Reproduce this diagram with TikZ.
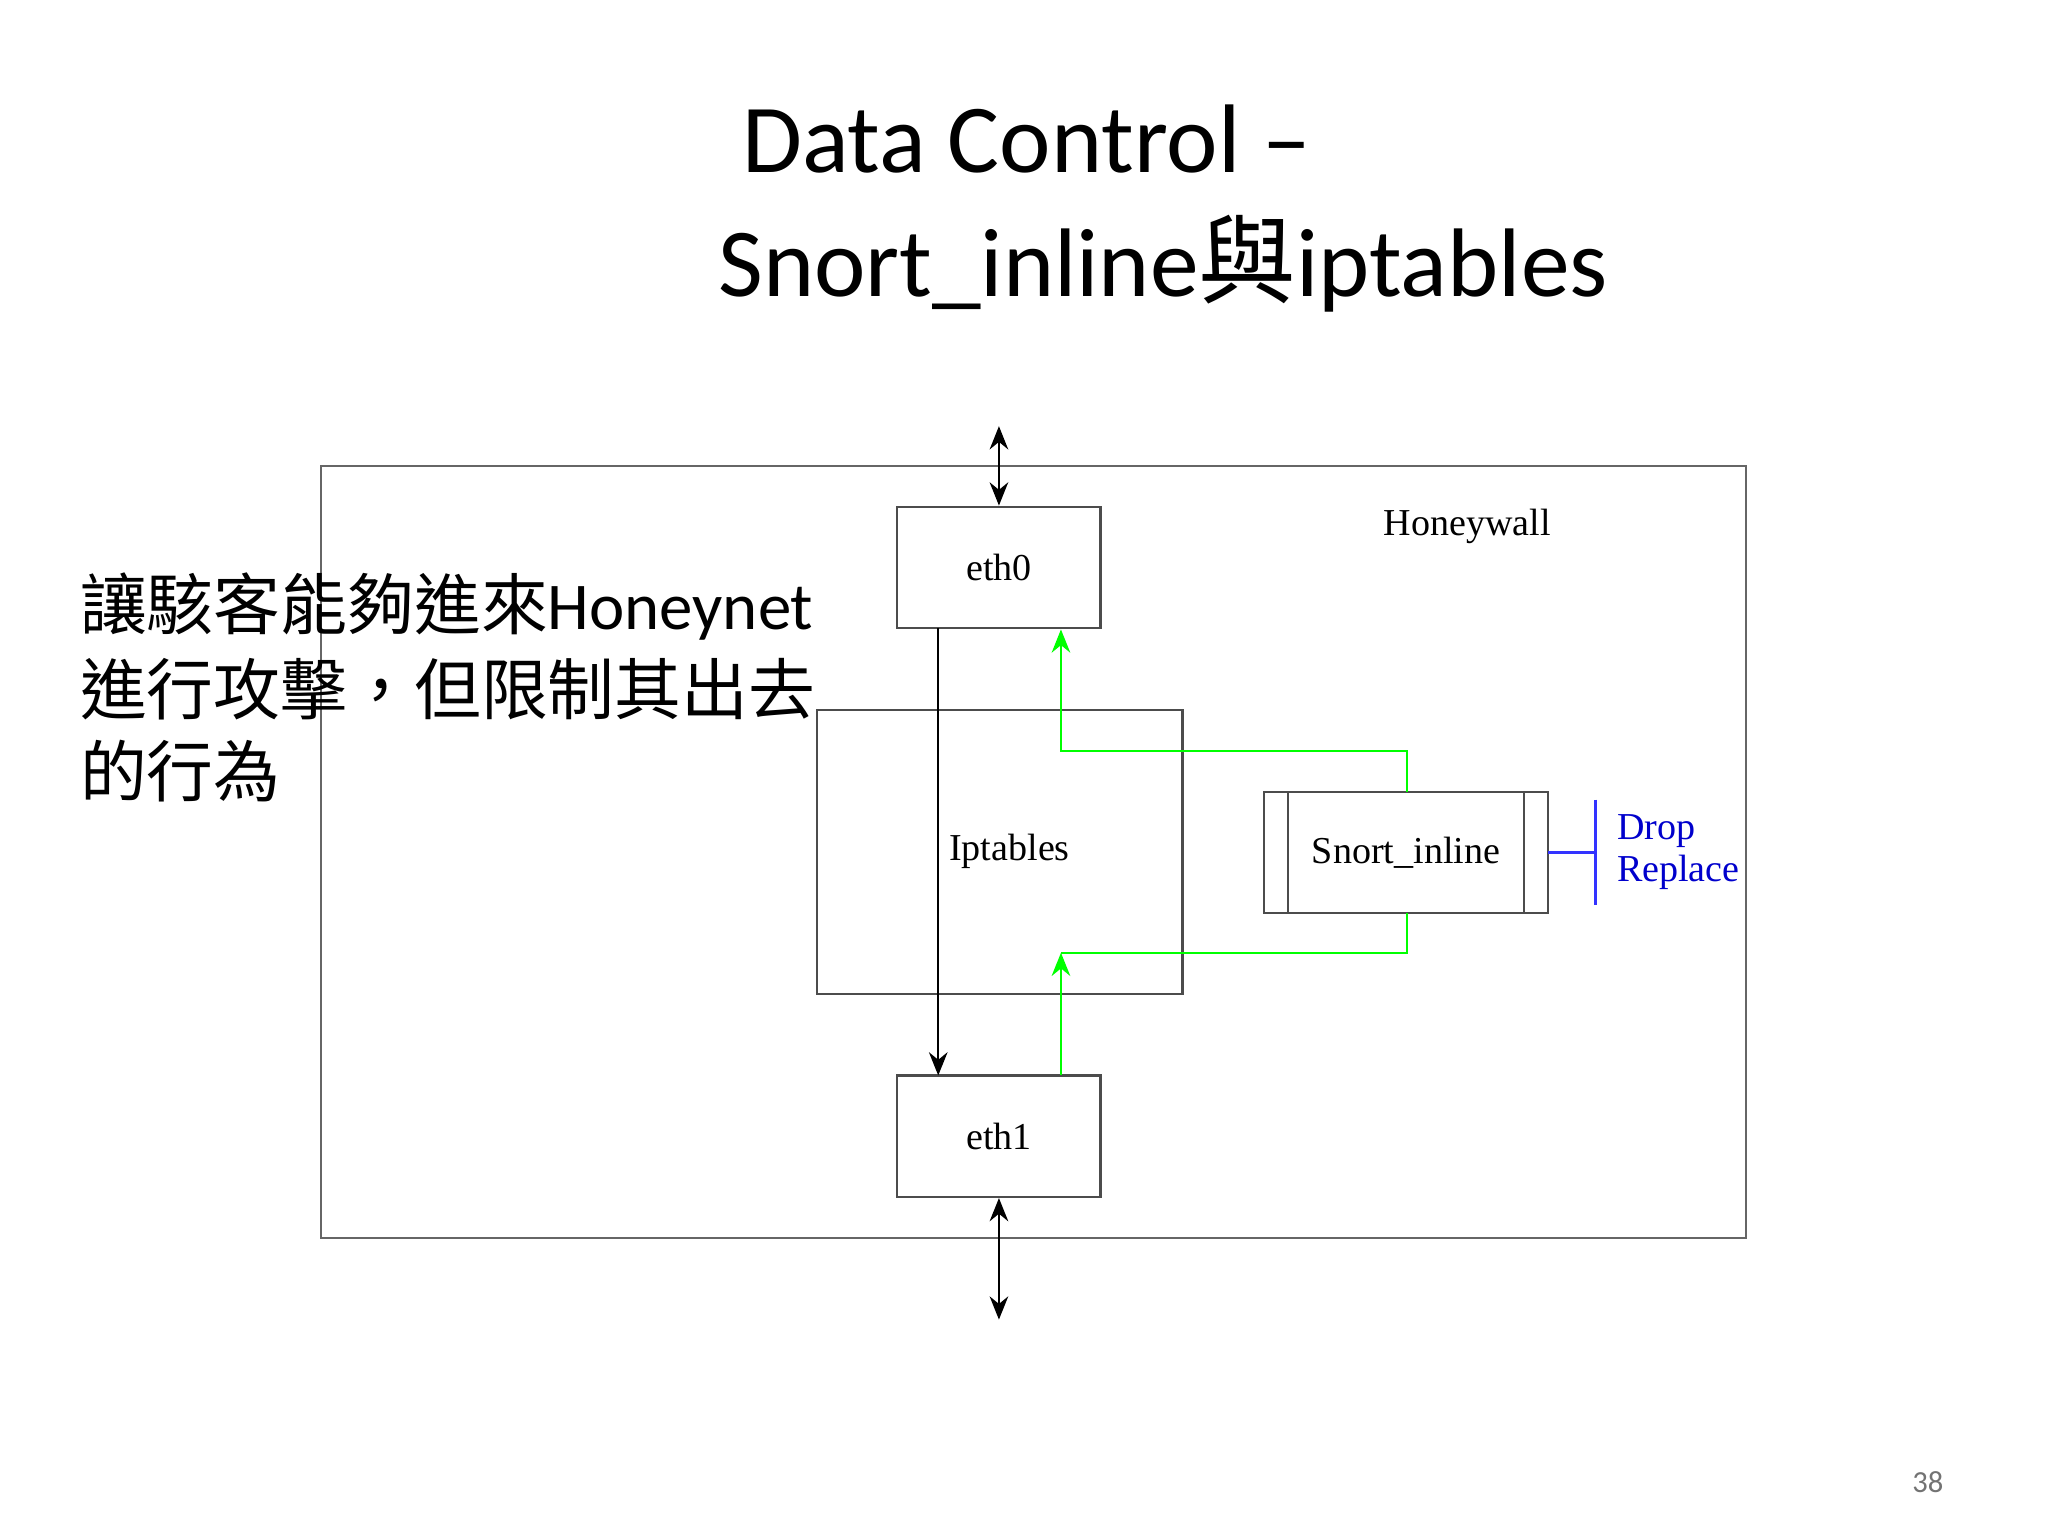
\documentclass[tikz,border=0pt]{standalone}
\usepackage{fontspec}
\setmainfont{Liberation Serif}
\newfontfamily\calfont{Carlito}
\newfontfamily\cjk{Noto Sans CJK TC}
\usetikzlibrary{arrows.meta}
\begin{document}
\begin{tikzpicture}[x=0.01cm,y=-0.01cm,
  box/.style={draw=black!70,line width=0.5pt,inner sep=0},
  lbl/.style={font=\fontsize{8.2pt}{10pt}\selectfont},
  arr/.style={-{Stealth[length=5pt,width=4pt]},line width=0.5pt},
  darr/.style={{Stealth[length=5pt,width=4pt]}-{Stealth[length=5pt,width=4pt]},line width=0.5pt},
  grn/.style={draw=green,line width=0.5pt}]
\useasboundingbox (0,0) rectangle (1552,1164);
\node[font=\calfont\fontsize{21pt}{26pt}\selectfont,anchor=west] (t1) at (550,105) {Data Control –};
\node[font=\calfont\fontsize{21pt}{26pt}\selectfont,anchor=west] (t2) at (532,200) {Snort\_inline{\cjk 與}iptables};
\draw[black!60,line width=0.5pt] (243,353) rectangle (1323,938);
\node[lbl] (hw) at (1112,399) {Honeywall};
\node[box,minimum width=1.54cm,minimum height=0.92cm] (e0) at (757,430) {};
\node[lbl] at (757,430) {eth0};
\node[box,minimum width=1.54cm,minimum height=0.92cm] (e1) at (757,861) {};
\node[lbl] at (757,861) {eth1};
\node[box,minimum width=2.77cm,minimum height=2.15cm] (ip) at (757.5,645.5) {};
\node[lbl] (ipl) at (765,645) {Iptables};
\node[box,minimum width=2.15cm,minimum height=0.92cm] (sn) at (1065.5,646) {};
\node[lbl] at (1065.5,646) {Snort\_inline};
\draw[black!70,line width=0.5pt] (976,600) -- (976,692) (1155,600) -- (1155,692);
\coordinate (top) at (757,323);
\coordinate (bot) at (757,1000);
\draw[darr] (top) -- (e0.north);
\draw[darr] (e1.south) -- (bot);
\draw[arr] (711,476) -- (711,815);
\draw[grn,-{Stealth[length=5pt,width=4pt]}] (1066,600) -- (1066,569) -- (804,569) -- (804,477);
\draw[grn,-{Stealth[length=5pt,width=4pt]}] (804,815) -- (804,722);
\draw[grn] (804,722) -- (1066,722) -- (1066,692);
\draw[blue!80,line width=0.5pt] (1173,646) -- (1209,646) (1209,606) -- (1209,686);
\node[lbl,text=blue!80!black,anchor=west] (dr) at (1213,630) {Drop};
\node[lbl,text=blue!80!black,anchor=west] (rp) at (1213,661) {Replace};
\begin{scope}[every node/.style={anchor=west,inner sep=0,font=\cjk\fontsize{14.4pt}{16pt}\selectfont}]
\node (l1) at (60,460) {讓駭客能夠進來{\calfont Honeynet}};
\node (l2) at (60,522) {進行攻擊，但限制其出去};
\node (l3) at (60,584) {的行為};
\end{scope}
\node[font=\calfont\fontsize{6.6pt}{8pt}\selectfont,text=black!55] (pg) at (1461,1123) {38};
\end{tikzpicture}
\end{document}
